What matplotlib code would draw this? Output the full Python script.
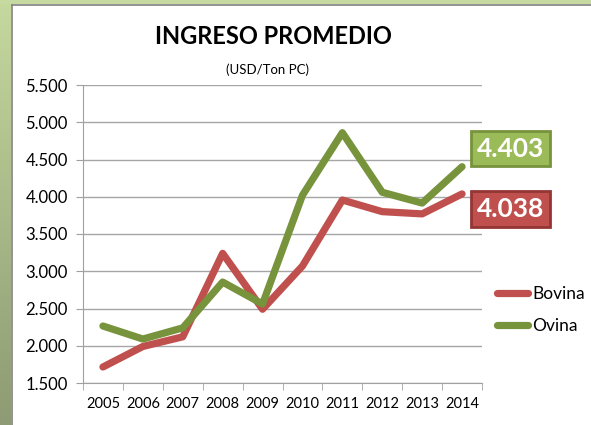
import matplotlib
matplotlib.use("Agg")
import matplotlib.pyplot as plt
import numpy as np

plt.rcParams['font.family'] = ['Lato', 'DejaVu Sans']

years = ['2005', '2006', '2007', '2008', '2009', '2010', '2011', '2012', '2013', '2014']
bovina = [1715, 1990, 2120, 3240, 2490, 3070, 3956, 3800, 3770, 4038]
ovina = [2265, 2090, 2240, 2855, 2560, 4020, 4860, 4060, 3915, 4403]
yticks = [1500, 2000, 2500, 3000, 3500, 4000, 4500, 5000, 5500]
ytick_labels = ['1.500', '2.000', '2.500', '3.000', '3.500', '4.000', '4.500', '5.000', '5.500']
last_labels = ['4.038', '4.403']

red = '#C0504D'
green = '#77933C'

fig = plt.figure(figsize=(5.91, 4.25), dpi=100)
fig.patch.set_facecolor('white')

# green frame on the left and top
band = fig.add_axes([0, 0, 11 / 591, 1])
grad = np.linspace(0, 1, 100).reshape(-1, 1)
band.imshow(grad, aspect='auto', cmap=matplotlib.colors.LinearSegmentedColormap.from_list(
    'g', ['#C5D89E', '#8E9B74']), extent=[0, 1, 0, 1], origin='upper')
band.axis('off')
top = fig.add_axes([0, 1 - 4 / 425, 1, 4 / 425])
top.set_facecolor('#C6D9A0')
top.set_xticks([])
top.set_yticks([])
for s in top.spines.values():
    s.set_visible(False)
fig.add_artist(plt.Line2D([11.5 / 591, 11.5 / 591], [0, 1 - 4.5 / 425], color='#808080', lw=1.2))
fig.add_artist(plt.Line2D([11.5 / 591, 1], [1 - 4.5 / 425, 1 - 4.5 / 425], color='#808080', lw=1.2))

ax = fig.add_axes([83 / 591, 1 - 383 / 425, 399 / 591, 298 / 425])
x = np.arange(len(years))
ax.plot(x, bovina, color=red, lw=5.2, solid_joinstyle='round', solid_capstyle='round', label='Bovina')
ax.plot(x, ovina, color=green, lw=5.2, solid_joinstyle='round', solid_capstyle='round', label='Ovina')

ax.set_xlim(-0.5, len(years) - 0.5)
ax.set_ylim(1500, 5500)
ax.set_yticks(yticks)
ax.set_yticklabels(ytick_labels, fontsize=12)
ax.set_xticks(x)
ax.set_xticklabels(years, fontsize=10.5)
ax.set_xticks(np.arange(-0.5, len(years)), minor=True)
ax.tick_params(axis='x', which='major', length=0, pad=10)
ax.tick_params(axis='x', which='minor', length=5, color='#A0A0A0')
ax.tick_params(axis='y', length=5, color='#A0A0A0', pad=6)
ax.grid(axis='y', color='#A6A6A6', lw=1)
ax.set_axisbelow(True)
for s in ['top', 'right']:
    ax.spines[s].set_visible(False)
ax.spines['left'].set_color('#A0A0A0')
ax.spines['bottom'].set_color('#A0A0A0')

# value boxes for the last year
ax.annotate(last_labels[1], (x[-1], ovina[-1]), xytext=(35, 13), textcoords='offset points',
            ha='center', va='center', fontsize=19, fontweight='bold', color='white',
            annotation_clip=False,
            bbox=dict(boxstyle='square,pad=0.22', fc='#9BBB59', ec='#77933C', lw=2))
ax.annotate(last_labels[0], (x[-1], bovina[-1]), xytext=(35, -11), textcoords='offset points',
            ha='center', va='center', fontsize=19, fontweight='bold', color='white',
            annotation_clip=False,
            bbox=dict(boxstyle='square,pad=0.22', fc='#C0504D', ec='#943634', lw=2))

fig.legend(loc='upper left', bbox_to_anchor=(497 / 591, 1 - 286 / 425), frameon=False,
           fontsize=12.5, handlelength=1.8, handletextpad=0.25, labelspacing=0.9,
           borderpad=0, borderaxespad=0)

fig.text(273 / 591, 1 - 37 / 425, 'INGRESO PROMEDIO', ha='center', va='center',
         fontsize=17, fontweight='bold')
fig.text(267 / 591, 1 - 70 / 425, '(USD/Ton PC)', ha='center', va='center', fontsize=9.5)

fig.savefig('out.png', dpi=100)
